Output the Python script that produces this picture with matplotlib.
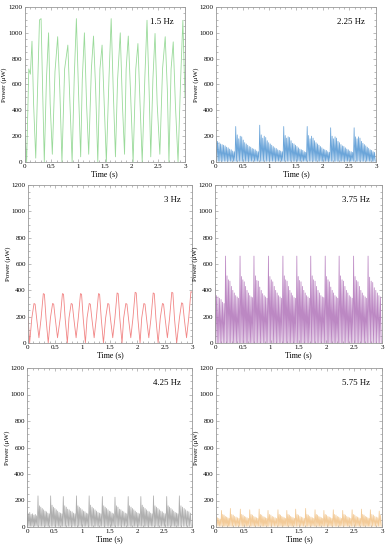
import numpy as np
import matplotlib
matplotlib.use('Agg')
import matplotlib.pyplot as plt
from matplotlib.ticker import MultipleLocator, AutoMinorLocator

plt.rcParams['font.family'] = ['Liberation Serif', 'DejaVu Serif']

# ---- 1.5 Hz (green): traced vertices
p1_t = [0.00, 0.04, 0.08, 0.11, 0.14, 0.17, 0.21, 0.25, 0.28, 0.31, 0.34, 0.37,
        0.41, 0.45, 0.48, 0.52, 0.57, 0.62, 0.66, 0.70, 0.75, 0.81, 0.85, 0.89,
        0.93, 0.97, 1.01, 1.05, 1.08, 1.12, 1.16, 1.20, 1.25, 1.29, 1.33, 1.37,
        1.41, 1.45, 1.49, 1.53, 1.58, 1.62, 1.66, 1.70, 1.74, 1.79, 1.83, 1.87,
        1.90, 1.94, 1.98, 2.03, 2.08, 2.12, 2.16, 2.20, 2.25, 2.29, 2.33, 2.36,
        2.40, 2.44, 2.48, 2.53, 2.58, 2.63, 2.67, 2.70, 2.74, 2.78, 2.82, 2.87,
        2.92, 2.96, 3.00]
p1_v = [300, 0, 720, 680, 935, 450, 30, 650, 1100, 1110, 540, 0,
        640, 1000, 450, 60, 700, 970, 560, 0, 720, 905, 450, 0,
        660, 1110, 540, 40, 640, 1000, 450, 60, 720, 975, 560, 0,
        720, 905, 450, 0, 660, 1110, 540, 40, 640, 1000, 450, 60,
        720, 975, 560, 0, 720, 917, 450, 0, 660, 1097, 540, 40,
        640, 995, 450, 60, 720, 970, 560, 0, 720, 930, 450, 0,
        660, 1097, 500]

# ---- 2.25 Hz (blue): burst starts and spike peaks
p2_starts = [0.0, 0.37, 0.82, 1.27, 1.71, 2.15, 2.59]
p2_bursts = [
    [200, 160, 150, 140, 135, 130, 125, 115, 110, 100, 95, 85, 80],
    [275, 210, 180, 200, 195, 170, 150, 140, 130, 120, 115, 105, 100, 95, 85, 80],
    [285, 210, 185, 200, 190, 165, 150, 140, 130, 120, 110, 105, 95, 90, 85, 80],
    [275, 205, 185, 195, 190, 165, 145, 140, 130, 120, 110, 100, 95, 90, 80, 75],
    [275, 205, 180, 200, 185, 165, 150, 140, 130, 120, 110, 100, 95, 90, 80, 75],
    [265, 200, 180, 195, 185, 160, 150, 135, 125, 120, 110, 100, 95, 85, 80, 75],
    [265, 195, 180, 195, 185, 160, 145, 135, 125, 115, 105, 95, 90, 80, 75],
]
p2_floor = 5

# ---- 3 Hz (red): traced vertices
p3_t = [0.00, 0.03, 0.07, 0.11, 0.13, 0.16, 0.20, 0.24, 0.28, 0.30, 0.33, 0.37,
        0.41, 0.45, 0.47, 0.50, 0.54, 0.59, 0.63, 0.65, 0.68, 0.72, 0.75, 0.79,
        0.81, 0.84, 0.88, 0.92, 0.96, 0.98, 1.01, 1.05, 1.08, 1.12, 1.14, 1.17,
        1.21, 1.25, 1.29, 1.31, 1.34, 1.38, 1.42, 1.46, 1.48, 1.51, 1.55, 1.59,
        1.63, 1.65, 1.68, 1.72, 1.75, 1.79, 1.81, 1.84, 1.88, 1.92, 1.96, 1.98,
        2.01, 2.05, 2.08, 2.12, 2.14, 2.17, 2.21, 2.25, 2.29, 2.31, 2.34, 2.38,
        2.42, 2.46, 2.48, 2.51, 2.55, 2.59, 2.63, 2.65, 2.68, 2.72, 2.77, 2.81,
        2.83, 2.86, 2.90, 2.94, 2.98, 3.00]
p3_v = [200, 0, 190, 300, 295, 180, 40, 190, 375, 370, 185, 0,
        190, 300, 295, 180, 40, 190, 375, 370, 185, 0, 190, 300,
        295, 180, 40, 190, 375, 370, 185, 0, 190, 300, 295, 180,
        40, 190, 375, 370, 185, 0, 190, 300, 295, 180, 40, 190,
        380, 375, 185, 0, 190, 300, 295, 180, 40, 190, 385, 380,
        185, 0, 190, 300, 295, 180, 40, 190, 380, 375, 185, 0,
        190, 300, 295, 180, 40, 190, 385, 380, 185, 0, 190, 305,
        300, 180, 40, 190, 390, 385]

# ---- 3.75 Hz (purple)
p4_starts = [0.0, 0.19, 0.45, 0.70, 0.96, 1.22, 1.47, 1.72, 1.98, 2.23, 2.49, 2.75]
p4_bursts = [
    [420, 360, 350, 340, 330, 310, 300],
    [660, 510, 480, 470, 430, 400, 380, 360, 350, 340],
    [660, 505, 480, 465, 430, 400, 380, 360, 350, 345],
    [660, 510, 475, 470, 425, 400, 375, 360, 350, 340],
    [660, 505, 480, 465, 430, 400, 380, 360, 350, 340],
    [660, 510, 480, 470, 430, 400, 380, 360, 345, 340],
    [660, 505, 475, 465, 430, 400, 380, 360, 350, 340],
    [660, 510, 480, 470, 430, 400, 380, 360, 350, 345],
    [660, 505, 480, 465, 425, 400, 380, 360, 350, 340],
    [660, 510, 480, 470, 430, 400, 380, 360, 350, 340],
    [660, 505, 475, 465, 430, 400, 380, 360, 350, 340],
    [660, 500, 470, 460, 420, 400, 380, 360, 350],
]
p4_floor = 0

# ---- 4.25 Hz (gray)
p5_starts = [0.0, 0.20, 0.43, 0.66, 0.90, 1.13, 1.37, 1.60, 1.84, 2.07, 2.30, 2.54, 2.77]
p5_bursts = [
    [120, 100, 110, 95, 100, 90, 95, 85],
    [235, 160, 150, 140, 130, 120, 115, 105, 100],
    [235, 165, 150, 140, 130, 120, 110, 105, 100],
    [230, 160, 150, 135, 130, 120, 115, 105, 100],
    [235, 160, 150, 140, 130, 120, 115, 105, 100],
    [235, 165, 150, 140, 130, 120, 110, 105, 100],
    [230, 160, 150, 140, 130, 120, 115, 105, 100],
    [225, 160, 150, 135, 130, 120, 115, 105, 100],
    [230, 160, 150, 140, 130, 120, 110, 105, 100],
    [230, 165, 150, 140, 130, 120, 115, 105, 100],
    [235, 160, 150, 140, 130, 120, 115, 105, 100],
    [230, 160, 150, 140, 130, 120, 110, 105, 100],
    [235, 160, 150, 140, 130, 120, 115, 105],
]
p5_floor = 5

# ---- 5.75 Hz (tan)
p6_starts = [0.0, 0.10, 0.26, 0.44, 0.61, 0.78, 0.94, 1.12, 1.28, 1.44, 1.62,
             1.79, 1.95, 2.12, 2.29, 2.46, 2.63, 2.79, 2.95]
p6_bursts = [
    [80, 70, 65, 60],
    [125, 95, 90, 80, 75, 70, 65],
    [140, 95, 90, 80, 75, 70, 65],
    [135, 95, 90, 80, 75, 70, 65],
    [130, 95, 90, 80, 75, 70, 65],
    [135, 95, 90, 80, 75, 70, 65],
    [125, 95, 90, 80, 75, 70, 65],
    [130, 95, 90, 80, 75, 70, 65],
    [125, 95, 90, 80, 75, 70, 65],
    [135, 95, 90, 80, 75, 70, 65],
    [140, 95, 90, 80, 75, 70, 65],
    [130, 95, 90, 80, 75, 70, 65],
    [125, 95, 90, 80, 75, 70, 65],
    [130, 95, 90, 80, 75, 70, 65],
    [125, 95, 90, 80, 75, 70, 65],
    [130, 95, 90, 80, 75, 70, 65],
    [135, 95, 90, 80, 75, 70, 65],
    [130, 95, 90, 80, 75, 70],
    [120, 90],
]
p6_floor = 5

labels = ['1.5 Hz', '2.25 Hz', '3 Hz', '3.75 Hz', '4.25 Hz', '5.75 Hz']
colors = ['#8fd68f', '#5b9bd5', '#f07878', '#b57bbd', '#a6a6a6', '#f2c68e']


def burst_line(starts, bursts, floor, t_end=3.0):
    edges = list(starts) + [t_end]
    ts, ys = [], []
    for i, vals in enumerate(bursts):
        tt = np.linspace(edges[i], edges[i + 1], 2 * len(vals), endpoint=False)
        for k, v in enumerate(vals):
            ts += [tt[2 * k], tt[2 * k + 1]]
            ys += [v, floor]
    return ts, ys


series = [
    (p1_t, p1_v),
    burst_line(p2_starts, p2_bursts, p2_floor),
    (p3_t, p3_v),
    burst_line(p4_starts, p4_bursts, p4_floor),
    burst_line(p5_starts, p5_bursts, p5_floor),
    burst_line(p6_starts, p6_bursts, p6_floor),
]

W, H = 386, 550
# axes boxes in pixels: left, right, top, bottom
boxes = [(24.5, 185, 7, 162), (216, 376, 7, 162),
         (28, 192, 185, 343), (215, 382, 185, 343),
         (27, 192, 368, 527), (216, 382, 368, 527)]

fig = plt.figure(figsize=(W / 100, H / 100), dpi=100)

for i, (l, r, t, b) in enumerate(boxes):
    ax = fig.add_axes([l / W, (H - b) / H, (r - l) / W, (b - t) / H])
    ts, ys = series[i]
    lw = 0.6 if i in (0, 2) else 0.55
    ax.plot(ts, ys, color=colors[i], lw=lw, alpha=0.9)
    ax.set_xlim(0, 3)
    ax.set_ylim(0, 1200)
    ax.yaxis.set_major_locator(MultipleLocator(200))
    ax.xaxis.set_minor_locator(AutoMinorLocator(5))
    ax.yaxis.set_minor_locator(AutoMinorLocator(4))
    ax.set_xticks([0, 0.5, 1, 1.5, 2, 2.5, 3])
    ax.set_xticklabels(['0', '0.5', '1', '1.5', '2', '2.5', '3'])
    ax.tick_params(which='both', direction='in', top=True, right=True,
                   labelsize=5, pad=1.5, color='#888888', width=0.4)
    ax.tick_params(which='major', length=2.5)
    ax.tick_params(which='minor', length=1.3)
    for s in ax.spines.values():
        s.set_color('#999999')
        s.set_linewidth(0.6)
    ax.set_xlabel('Time (s)', fontsize=5.8, labelpad=1)
    ax.set_ylabel('Power (μW)', fontsize=5, labelpad=1)
    ax.text(0.93, 0.93, labels[i], transform=ax.transAxes, ha='right',
            va='top', fontsize=6.3)

fig.savefig('out.png', dpi=100)
